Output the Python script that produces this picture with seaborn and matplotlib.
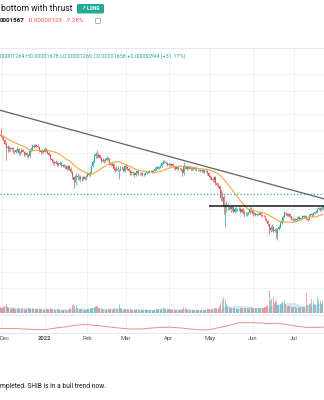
import numpy as np
import pandas as pd
import matplotlib
matplotlib.use("Agg")
import matplotlib.pyplot as plt
import matplotlib.dates as mdates
from matplotlib.colors import to_rgba
from matplotlib.lines import Line2D
from matplotlib.patches import FancyBboxPatch
import seaborn as sns

sns.set_theme(style="white")
plt.rcParams["font.family"] = ["Roboto", "DejaVu Sans"]

W, H = 324, 400
UP, DOWN = "#26a69a", "#ef5350"
GRID = "#eef0f4"
BORDER = "#e0e3eb"
TEXT = "#131722"

# ---- SHIB/USD daily data, prices in units of 1e-5 USD ----
# closes from Nov 9 to Nov 27 2021, only used to seed the moving average
close_warmup = [5.40, 5.00, 5.20, 5.00, 5.00, 4.90, 5.00, 4.55, 4.50, 4.20,
                4.35, 4.40, 4.30, 4.05, 4.15, 4.00, 4.10, 3.85, 3.95]

# candles start on Nov 28 2021
close_nov = [4.05, 4.45, 4.35]
high_nov = [4.20, 4.60, 4.95]
low_nov = [3.85, 4.00, 4.25]

close_dec = [4.25, 4.05, 3.80, 3.50, 3.55, 3.45, 3.50, 3.45, 3.30, 3.25,
             3.40, 3.45, 3.20, 3.30, 3.40, 3.30, 3.15, 3.20, 3.10, 3.05,
             3.35, 3.45, 3.65, 3.60, 3.70, 3.65, 3.55, 3.35, 3.25, 3.35,
             3.30]
high_dec = [4.45, 4.35, 4.15, 3.90, 3.70, 3.65, 3.60, 3.60, 3.55, 3.40,
            3.45, 3.55, 3.50, 3.35, 3.50, 3.45, 3.35, 3.25, 3.30, 3.15,
            3.40, 3.55, 3.75, 3.75, 3.80, 3.80, 3.75, 3.60, 3.40, 3.45,
            3.40]
low_dec = [4.10, 3.95, 3.70, 2.85, 3.30, 3.30, 3.35, 3.35, 3.20, 3.15,
           3.20, 3.30, 3.10, 3.10, 3.20, 3.25, 3.05, 3.05, 3.00, 2.95,
           3.00, 3.30, 3.40, 3.50, 3.55, 3.55, 3.50, 3.30, 3.15, 3.20,
           3.20]

close_jan = [3.45, 3.35, 3.20, 3.10, 2.90, 2.85, 2.75, 2.70, 2.75, 2.60,
             2.65, 2.70, 2.55, 2.60, 2.55, 2.55, 2.45, 2.55, 2.45, 2.30,
             2.10, 2.00, 2.10, 2.15, 2.10, 2.10, 2.05, 2.05, 2.10, 2.05,
             2.15]
high_jan = [3.55, 3.50, 3.40, 3.25, 3.15, 2.95, 2.90, 2.80, 2.85, 2.80,
            2.75, 2.80, 2.75, 2.65, 2.65, 2.65, 2.60, 2.60, 2.60, 2.50,
            2.35, 2.15, 2.20, 2.25, 2.25, 2.20, 2.20, 2.15, 2.15, 2.15,
            2.20]
low_jan = [3.25, 3.30, 3.15, 3.05, 2.85, 2.75, 2.65, 2.60, 2.65, 2.55,
           2.55, 2.60, 2.50, 2.50, 2.50, 2.45, 2.40, 2.40, 2.40, 2.25,
           2.05, 1.75, 1.95, 1.85, 2.00, 2.00, 1.98, 1.98, 2.00, 2.00,
           2.00]

close_feb = [2.25, 2.20, 2.30, 2.55, 2.75, 3.05, 3.15, 3.05, 3.10, 2.95,
             2.80, 2.85, 2.80, 2.85, 2.95, 2.90, 2.65, 2.60, 2.65, 2.45,
             2.40, 2.45, 2.40, 2.40, 2.45, 2.45, 2.35, 2.55]
high_feb = [2.30, 2.30, 2.35, 2.60, 2.85, 3.15, 3.30, 3.40, 3.20, 3.15,
            3.00, 2.95, 2.90, 2.95, 3.05, 3.00, 2.95, 2.70, 2.75, 2.70,
            2.50, 2.55, 2.55, 2.45, 2.55, 2.55, 2.50, 2.60]
low_feb = [2.10, 2.15, 2.15, 2.25, 2.50, 2.70, 2.95, 2.95, 2.95, 2.90,
           2.70, 2.75, 2.70, 2.75, 2.80, 2.85, 2.60, 2.55, 2.55, 2.40,
           2.30, 2.35, 2.35, 2.05, 2.35, 2.40, 2.30, 2.30]

close_mar = [2.50, 2.45, 2.35, 2.25, 2.30, 2.25, 2.20, 2.25, 2.35, 2.25,
             2.25, 2.25, 2.20, 2.20, 2.25, 2.30, 2.30, 2.35, 2.35, 2.30,
             2.35, 2.45, 2.45, 2.50, 2.50, 2.55, 2.70, 2.75, 2.75, 2.70,
             2.60]
high_mar = [2.65, 2.55, 2.50, 2.40, 2.35, 2.35, 2.30, 2.30, 2.40, 2.40,
            2.30, 2.30, 2.30, 2.25, 2.30, 2.35, 2.35, 2.40, 2.40, 2.40,
            2.40, 2.50, 2.55, 2.55, 2.55, 2.60, 2.75, 2.85, 2.85, 2.80,
            2.75]
low_mar = [2.45, 2.40, 2.30, 2.20, 2.20, 2.20, 2.12, 2.15, 2.22, 2.20,
           2.18, 2.20, 2.15, 2.14, 2.18, 2.22, 2.25, 2.28, 2.30, 2.25,
           2.28, 2.33, 2.40, 2.42, 2.45, 2.48, 2.52, 2.65, 2.68, 2.65,
           2.55]

close_apr = [2.65, 2.60, 2.65, 2.55, 2.50, 2.45, 2.50, 2.45, 2.45, 2.40,
             2.25, 2.55, 2.50, 2.45, 2.50, 2.50, 2.45, 2.45, 2.50, 2.45,
             2.40, 2.40, 2.40, 2.35, 2.40, 2.30, 2.35, 2.35, 2.25, 2.15]
high_apr = [2.72, 2.70, 2.72, 2.68, 2.58, 2.55, 2.55, 2.55, 2.52, 2.48,
            2.42, 2.75, 2.62, 2.55, 2.55, 2.55, 2.52, 2.50, 2.55, 2.55,
            2.50, 2.45, 2.45, 2.45, 2.45, 2.45, 2.42, 2.42, 2.40, 2.30]
low_apr = [2.55, 2.55, 2.55, 2.50, 2.45, 2.40, 2.42, 2.40, 2.40, 2.35,
           2.15, 2.20, 2.45, 2.40, 2.42, 2.45, 2.40, 2.40, 2.40, 2.40,
           2.35, 2.35, 2.35, 2.30, 2.30, 2.25, 2.27, 2.30, 2.20, 2.10]

close_may = [2.10, 2.05, 2.00, 2.10, 1.90, 1.85, 1.80, 1.70, 1.45, 1.50,
             1.25, 1.25, 1.30, 1.25, 1.25, 1.20, 1.25, 1.15, 1.20, 1.20,
             1.20, 1.20, 1.15, 1.20, 1.15, 1.10, 1.10, 1.10, 1.12, 1.20,
             1.18]
high_may = [2.20, 2.15, 2.10, 2.15, 2.15, 1.95, 1.90, 1.85, 1.72, 1.62,
            1.55, 1.35, 1.40, 1.35, 1.30, 1.30, 1.30, 1.28, 1.24, 1.25,
            1.23, 1.24, 1.25, 1.22, 1.22, 1.18, 1.14, 1.14, 1.15, 1.25,
            1.24]
low_may = [2.05, 2.00, 1.95, 1.95, 1.85, 1.80, 1.75, 1.65, 1.40, 1.38,
           1.10, 0.88, 1.15, 1.18, 1.18, 1.15, 1.17, 1.12, 1.12, 1.15,
           1.17, 1.17, 1.13, 1.12, 1.10, 1.05, 1.06, 1.07, 1.08, 1.10,
           1.14]

close_jun = [1.10, 1.12, 1.08, 1.10, 1.10, 1.12, 1.08, 1.07, 1.06, 1.02,
             0.98, 0.92, 0.83, 0.86, 0.88, 0.82, 0.84, 0.78, 0.85, 0.88,
             0.95, 0.98, 1.05, 1.12, 1.10, 1.08, 1.10, 1.05, 1.02, 1.00]
high_jun = [1.20, 1.15, 1.13, 1.12, 1.13, 1.16, 1.14, 1.10, 1.09, 1.08,
            1.03, 1.00, 0.93, 0.90, 0.92, 0.90, 0.87, 0.86, 0.87, 0.91,
            0.98, 1.01, 1.08, 1.16, 1.15, 1.13, 1.13, 1.12, 1.07, 1.04]
low_jun = [1.07, 1.08, 1.06, 1.07, 1.08, 1.08, 1.06, 1.04, 1.04, 1.00,
           0.96, 0.90, 0.78, 0.80, 0.82, 0.80, 0.80, 0.72, 0.70, 0.83,
           0.86, 0.93, 0.96, 1.04, 1.07, 1.06, 1.06, 1.03, 1.00, 0.97]

close_jul = [1.00, 1.00, 1.02, 1.05, 1.02, 1.03, 1.06, 1.05, 1.06, 1.02,
             1.00, 1.08, 1.10, 1.08, 1.12, 1.15, 1.14, 1.20, 1.22, 1.18,
             1.20, 1.25]
high_jul = [1.03, 1.03, 1.04, 1.07, 1.07, 1.05, 1.08, 1.08, 1.08, 1.07,
            1.03, 1.10, 1.13, 1.12, 1.14, 1.17, 1.18, 1.23, 1.25, 1.24,
            1.23, 1.27]
low_jul = [0.97, 0.98, 0.99, 1.01, 1.00, 1.00, 1.02, 1.03, 1.03, 1.00,
           0.98, 0.99, 1.06, 1.05, 1.07, 1.11, 1.12, 1.13, 1.18, 1.16,
           1.16, 1.18]

# daily volume (trillion SHIB)
volume_nov = [5, 5, 6]
volume_dec = [5, 6, 7, 9, 6, 5, 4, 4, 5, 4, 4, 4, 5, 4, 4, 4, 4, 3, 4, 5,
              5, 4, 5, 4, 4, 4, 4, 4, 4, 4, 3]
volume_jan = [3, 4, 4, 4, 5, 4, 4, 3, 3, 4, 4, 3, 3, 3, 3, 3, 3, 3, 4, 5,
              8, 9, 7, 8, 5, 4, 4, 4, 3, 3, 3]
volume_feb = [4, 4, 4, 5, 5, 6, 6, 7, 5, 5, 4, 4, 3, 3, 4, 4, 4, 4, 3, 4,
              5, 4, 4, 9, 5, 4, 3, 4]
volume_mar = [4, 4, 3, 4, 3, 3, 3, 3, 4, 3, 3, 3, 3, 3, 3, 3, 3, 3, 3, 3,
              3, 3, 4, 4, 4, 4, 5, 5, 5, 4, 4]
volume_apr = [4, 4, 3, 3, 3, 3, 3, 3, 3, 3, 4, 6, 5, 4, 3, 3, 3, 3, 3, 3,
              3, 3, 3, 3, 3, 3, 3, 3, 4, 4]
volume_may = [4, 4, 4, 5, 5, 5, 5, 7, 10, 13, 15, 14, 9, 7, 5, 5, 5, 5, 5, 4,
              4, 4, 5, 5, 5, 5, 5, 5, 4, 6, 6]
volume_jun = [5, 5, 5, 5, 5, 5, 5, 5, 5, 6, 7, 8, 23, 12, 14, 16, 10, 12, 8, 8,
              9, 10, 11, 12, 9, 7, 7, 7, 6, 6]
volume_jul = [6, 6, 5, 5, 6, 6, 6, 6, 6, 20, 8, 9, 10, 14, 12, 9, 8, 16, 13, 12,
              9, 12]

# weekly oscillator reading (lower pane), from Nov 28 2021
osc_weekly = [25, 25, 24, 22, 18, 19, 28, 34, 43, 47, 43, 37, 31, 25, 22, 23,
              28, 31, 32, 28, 22, 17, 19, 31, 42, 56, 58, 56, 53, 54, 47, 38,
              31, 31, 33]

current_price = 1.567
neckline_price = 1.27
neckline_span = ["2022-04-30", "2022-07-31"]
trend_dates = ["2021-10-28", "2022-07-23"]
trend_prices = [8.45, 1.44]

month_starts = ["2021-12-01", "2022-01-01", "2022-02-01", "2022-03-01",
                "2022-04-01", "2022-05-01", "2022-06-01", "2022-07-01"]
month_labels = ["Dec", "2022", "Feb", "Mar", "Apr", "May", "Jun", "Jul"]

# ---- assemble series ----
close = np.array(close_nov + close_dec + close_jan + close_feb + close_mar
                 + close_apr + close_may + close_jun + close_jul)
high = np.array(high_nov + high_dec + high_jan + high_feb + high_mar
                + high_apr + high_may + high_jun + high_jul)
low = np.array(low_nov + low_dec + low_jan + low_feb + low_mar
               + low_apr + low_may + low_jun + low_jul)
volume = np.array(volume_nov + volume_dec + volume_jan + volume_feb + volume_mar
                  + volume_apr + volume_may + volume_jun + volume_jul, dtype=float)
dates = pd.date_range("2021-11-28", periods=len(close), freq="D")
open_ = np.concatenate([[close_warmup[-1]], close[:-1]])
high = np.maximum(high, np.maximum(open_, close))
low = np.minimum(low, np.minimum(open_, close))
rising = close >= open_

ma20 = pd.Series(close_warmup + list(close)).rolling(20).mean().to_numpy()[len(close_warmup):]
vol_ma = pd.Series(volume).rolling(20, min_periods=1).mean().to_numpy()
osc_dates = pd.date_range("2021-11-28", periods=len(osc_weekly), freq="7D")
month_dt = pd.to_datetime(month_starts)

# ---- figure ----
fig = plt.figure(figsize=(W / 100, H / 100), dpi=100)
fig.patch.set_facecolor("white")


def pane(top, bottom):
    a = fig.add_axes([0, 1 - bottom / H, 1, (bottom - top) / H])
    a.set_facecolor("none")
    for s in a.spines.values():
        s.set_visible(False)
    a.tick_params(left=False, bottom=False, labelleft=False, labelbottom=False)
    return a


x_left = mdates.date2num(pd.Timestamp("2021-12-01")) - 1.45
x_right = x_left + 235.3

ax_vol = pane(48, 315)
ax = pane(48, 315)
ax_osc = pane(315, 333)

# month grid
for a in (ax_vol, ax_osc):
    for d in month_dt:
        a.axvline(d, color=GRID, lw=0.6, zorder=0)

# volume with its 20-day average
vol_colors = [to_rgba(UP if r else DOWN, 0.5) for r in rising]
ax_vol.fill_between(dates, vol_ma, color="#9ec9ea", alpha=0.45, lw=0, zorder=1)
ax_vol.bar(dates, volume, width=0.75, color=vol_colors, linewidth=0, zorder=2)
ax_vol.set_ylim(-2, 265)

# price pane (log scale)
ax.set_yscale("log")
for lvl in [0.3, 0.4, 0.6, 0.8, 1.2, 1.6, 2.4, 3.2, 4.8, 6.4, 9.6, 12.8]:
    ax.axhline(lvl, color=GRID, lw=0.6, zorder=0)
ax.axhline(current_price, color=UP, lw=0.8, ls=(0, (1, 2)), zorder=2)

candle_colors = np.where(rising, UP, DOWN)
ax.vlines(dates, low, high, colors=candle_colors, lw=0.5, zorder=3)
ax.bar(dates, np.abs(close - open_), bottom=np.minimum(open_, close), width=0.7,
       color=candle_colors, linewidth=0, zorder=4)

sns.lineplot(x=dates, y=ma20, ax=ax, color="#f5a742", lw=0.8, zorder=5, legend=False)
sns.lineplot(x=pd.to_datetime(trend_dates), y=trend_prices, ax=ax, color="#5d606b",
             lw=0.9, zorder=6, legend=False)
ax.hlines(neckline_price, pd.Timestamp(neckline_span[0]), pd.Timestamp(neckline_span[1]),
          color=TEXT, lw=1.1, zorder=6)
ax.set_ylim(0.188, 20.3)

# lower oscillator pane
sns.lineplot(x=osc_dates, y=osc_weekly, ax=ax_osc, color="#f28b8b", lw=0.7, legend=False)
ax_osc.set_ylim(0, 100)

for a in (ax_vol, ax, ax_osc):
    a.set_xlim(x_left, x_right)
    a.set_xlabel("")
    a.set_ylabel("")

# time axis labels, the first one kept inside the left edge
for d, lbl in zip(month_dt, month_labels):
    xd = mdates.date2num(d)
    first = lbl == month_labels[0]
    ax_osc.text(x_left if first else xd, -0.33, lbl, transform=ax_osc.get_xaxis_transform(),
                fontsize=4.2, color="#50535e", ha="left" if first else "center", va="center",
                fontweight="bold" if lbl == "2022" else "normal")

# pane borders
for y in (48, 315, 333):
    fig.add_artist(Line2D([0, 1], [1 - y / H] * 2, color=BORDER, lw=0.6))

# ---- header ----
def fx(x):
    return x / W


def fy(y):
    return 1 - y / H


fig.text(fx(1), fy(8.5), "bottom with thrust", fontsize=6.2, color=TEXT, va="center")
fig.add_artist(FancyBboxPatch((fx(77), fy(13.5)), fx(27), 9.5 / H,
                              boxstyle="round,pad=0,rounding_size=0.004",
                              transform=fig.transFigure, color="#22ab94", lw=0))
fig.text(fx(90.5), fy(8.8), "↗ LONG", fontsize=3.4, color="white", weight="bold",
         ha="center", va="center")

fig.text(fx(0), fy(21), "0001567", fontsize=4.5, color=TEXT, weight="bold", va="center")
fig.text(fx(28), fy(21), "-0.00000123", fontsize=4.4, color=DOWN, va="center")
fig.text(fx(66), fy(21), "-7.28%", fontsize=4.4, color=DOWN, va="center")
fig.add_artist(FancyBboxPatch((fx(95.5), fy(23.5)), fx(5), 5 / H,
                              boxstyle="round,pad=0,rounding_size=0.002",
                              transform=fig.transFigure, fill=False,
                              ec="#9598a1", lw=0.5))

fig.text(fx(0), fy(56.5),
         "00001264 H0.00001678 L0.00001260 C0.00001658 +0.00000394 (+31.17%)",
         fontsize=4.0, color=UP, va="center")

fig.text(fx(0), fy(386), "mpleted. SHIB is in a bull trend now.", fontsize=4.8,
         color=TEXT, va="center")

fig.savefig("out.png", dpi=100, facecolor="white")
